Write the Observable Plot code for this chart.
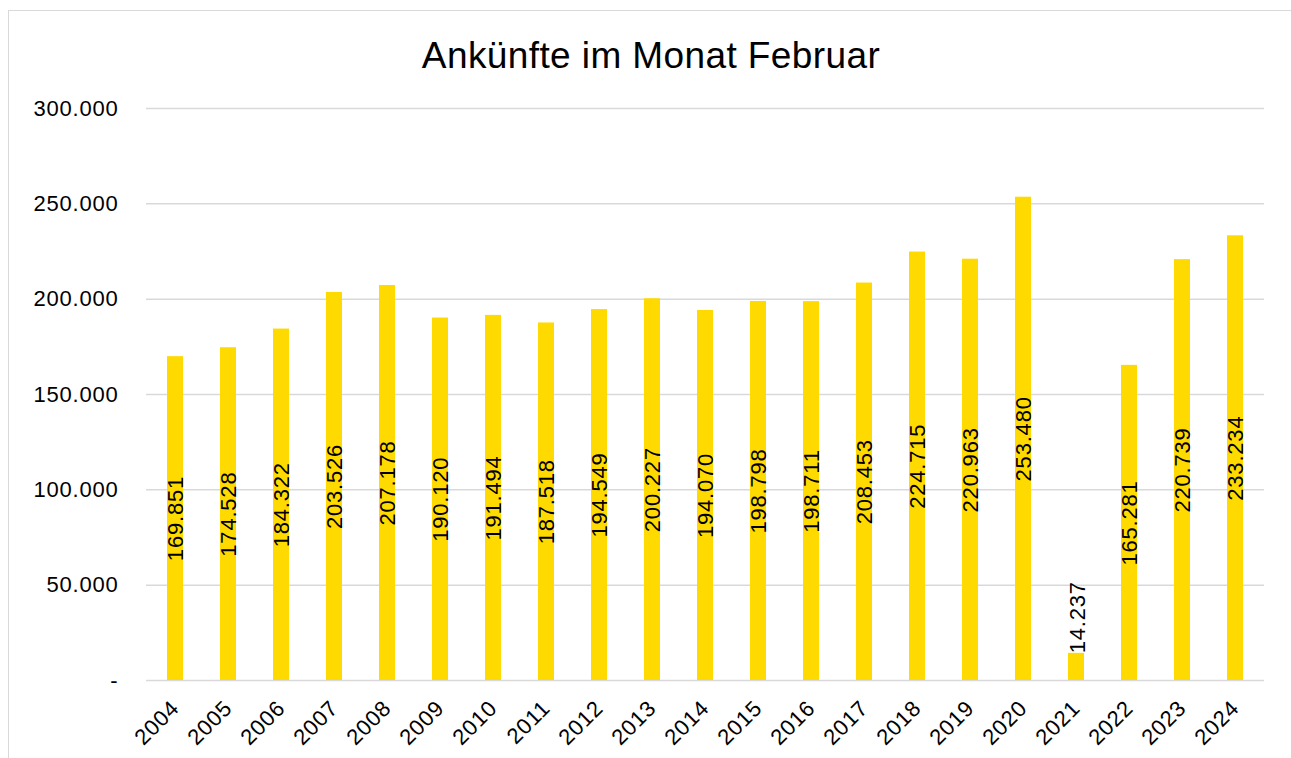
<!DOCTYPE html>
<html>
<head>
<meta charset="utf-8">
<script src="https://cdn.jsdelivr.net/npm/d3@7"></script>
<script src="https://cdn.jsdelivr.net/npm/@observablehq/plot@0.6"></script>
<style>
  html, body { margin: 0; padding: 0; background: #fff; }
  #wrap { position: relative; width: 1291px; height: 758px; overflow: hidden; font-family: "Liberation Sans", Arial, sans-serif; }
  #frame { position: absolute; left: 8px; top: 10px; width: 1300px; height: 800px; border-left: 1.5px solid #d9d9d9; border-top: 1.5px solid #d9d9d9; box-sizing: border-box; }
  #title { position: absolute; left: 0; top: 35px; width: 1302px; text-align: center; font-size: 37px; color: #000; letter-spacing: 0.4px; }
  #chart { position: absolute; left: 0; top: 90px; }
  #chart svg text { letter-spacing: 0.8px; }
</style>
</head>
<body>
<div id="wrap">
  <div id="frame"></div>
  <div id="title">Ankünfte im Monat Februar</div>
  <div id="chart"></div>
</div>
<script>
const years = ["2004","2005","2006","2007","2008","2009","2010","2011","2012","2013","2014","2015","2016","2017","2018","2019","2020","2021","2022","2023","2024"];
const values = [169851,174528,184322,203526,207178,190120,191494,187518,194549,200227,194070,198798,198711,208453,224715,220963,253480,14237,165281,220739,233234];
const yTicks = [0,50000,100000,150000,200000,250000,300000];

const de = n => d3.format(",")(n).replace(/,/g, ".");
const data = years.map((y, i) => ({year: y, value: values[i]}));
const inside = data.filter(d => d.value >= 50000);
const outside = data.filter(d => d.value < 50000);

const chart = Plot.plot({
  width: 1291,
  height: 668,
  marginTop: 18,
  marginBottom: 78,
  marginLeft: 146,
  marginRight: 27,
  style: {fontFamily: "Liberation Sans, Arial, sans-serif", fontSize: "22px", color: "#000", background: "transparent"},
  x: {domain: years, paddingInner: 0.7, paddingOuter: 0.35, label: null},
  y: {domain: [0, 300000], label: null},
  marks: [
    Plot.ruleY(yTicks, {stroke: "#d9d9d9", strokeWidth: 1.5}),
    Plot.barY(data, {x: "year", y: "value", fill: "#FFDA00"}),
    Plot.text(inside, {x: "year", y: d => d.value / 2, text: d => de(d.value), rotate: -90, textAnchor: "middle", lineAnchor: "middle", fill: "#000", fontSize: 22}),
    Plot.text(outside, {x: "year", y: "value", text: d => de(d.value), rotate: -90, textAnchor: "start", lineAnchor: "middle", dx: 1, fill: "#000", fontSize: 22}),
    Plot.axisY({ticks: yTicks, tickFormat: d => d === 0 ? "-" : de(d), tickSize: 0, tickPadding: 28, fontSize: 22, label: null}),
    Plot.axisX({tickSize: 0, tickRotate: -45, tickPadding: 24, fontSize: 22, label: null})
  ]
});
document.getElementById("chart").appendChild(chart);
</script>
</body>
</html>
